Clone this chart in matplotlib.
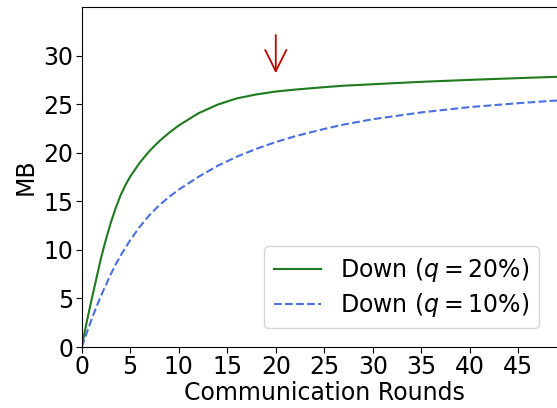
import matplotlib
matplotlib.use('Agg')
import matplotlib.pyplot as plt

# communication rounds and cumulative MB
rounds = [0, 0.5, 1, 1.5, 2, 2.5, 3, 3.5, 4, 4.5, 5, 6, 7, 8, 9, 10, 12, 14, 16, 18,
          20, 22, 25, 27, 30, 35, 40, 45, 50]
down_q20 = [0, 2.5, 4.8, 7.0, 9.2, 11.1, 12.8, 14.3, 15.6, 16.65, 17.55, 19.0, 20.2,
            21.2, 22.05, 22.8, 24.05, 24.95, 25.6, 26.0, 26.3, 26.5, 26.75, 26.9,
            27.05, 27.3, 27.5, 27.68, 27.85]
down_q10 = [0, 1.4, 2.8, 4.1, 5.3, 6.4, 7.5, 8.5, 9.4, 10.2, 11.0, 12.4, 13.6,
            14.6, 15.45, 16.2, 17.5, 18.65, 19.6, 20.4, 21.1, 21.7, 22.45, 22.9,
            23.45, 24.15, 24.7, 25.1, 25.45]
labels = ['Down ($q = 20\\%$)', 'Down ($q = 10\\%$)']
arrow_round = 20

plt.rcParams['font.size'] = 17

fig = plt.figure(figsize=(5.57, 4.08), dpi=100)
ax = fig.add_axes([0.1467, 0.1495, 0.871, 0.8333])

ax.plot(rounds, down_q20, '-', color='#1e7a1e', lw=1.5, label=labels[0])
ax.plot(rounds, down_q10, '--', color='#4a6fe0', lw=1.5, label=labels[1])

ax.annotate('', xy=(arrow_round, 27.9), xytext=(arrow_round, 32.4),
            arrowprops=dict(arrowstyle='->, head_length=0.9, head_width=0.45',
                            color='#c00000', lw=1.3))

ax.set_xlim(0, 50)
ax.set_ylim(0, 35)
ax.set_xticks(range(0, 50, 5))
ax.set_yticks(range(0, 35, 5))
ax.tick_params(length=4, pad=2)
ax.set_xlabel('Communication Rounds', labelpad=1)
ax.set_ylabel('MB', labelpad=4)
ax.spines['right'].set_visible(False)
ax.legend(loc='lower right', bbox_to_anchor=(0.966, 0.02), fontsize=17,
          handlelength=2.0, borderpad=0.4, labelspacing=0.3)

fig.savefig('out.png', dpi=100)
